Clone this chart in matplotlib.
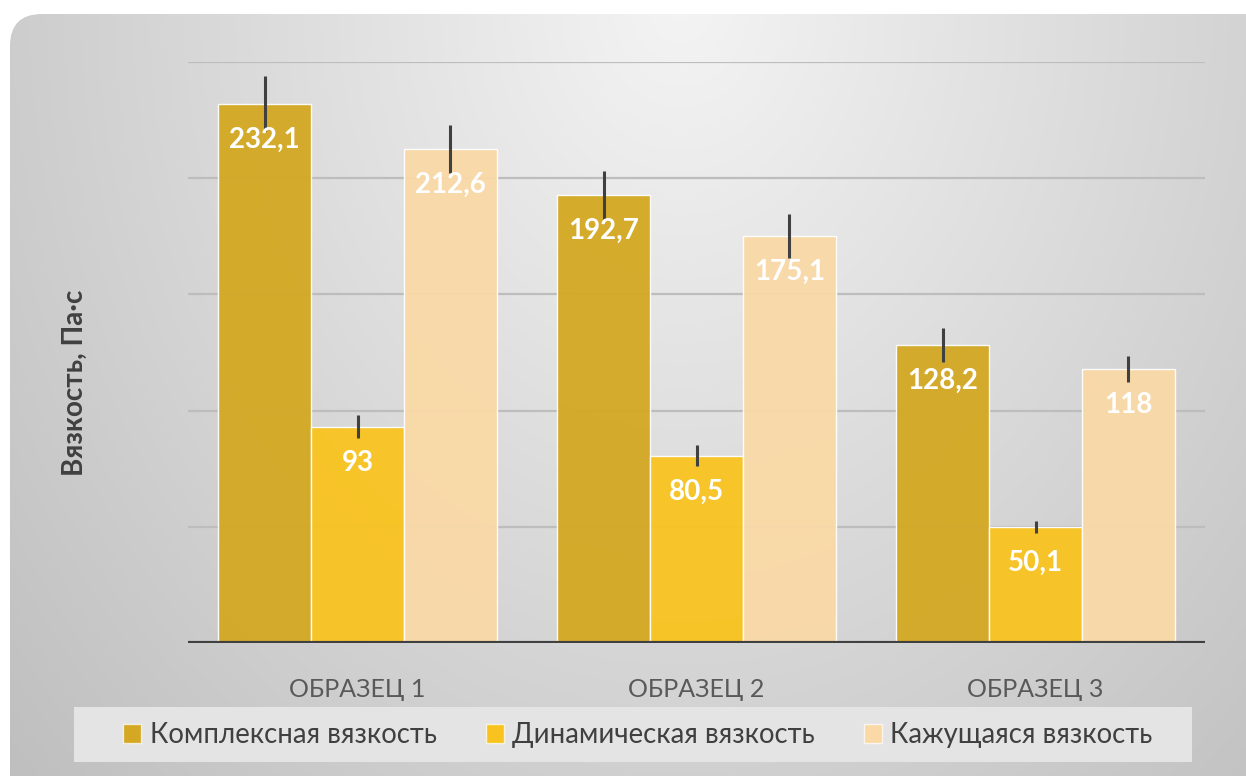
import numpy as np
import matplotlib
matplotlib.use("Agg")
import matplotlib.pyplot as plt
from matplotlib.patches import FancyBboxPatch, Rectangle, Patch

plt.rcParams['font.family'] = ['Lato', 'DejaVu Sans']

categories = ['ОБРАЗЕЦ 1', 'ОБРАЗЕЦ 2', 'ОБРАЗЕЦ 3']
series_names = ['Комплексная вязкость', 'Динамическая вязкость', 'Кажущаяся вязкость']
complex_visc = [232.1, 192.7, 128.2]
dynamic_visc = [93, 80.5, 50.1]
apparent_visc = [212.6, 175.1, 118]
complex_err = [12, 10.3, 7.3]
dynamic_err = [5.0, 4.5, 2.6]
apparent_err = [10.5, 9.5, 5.6]
value_labels = [['232,1', '192,7', '128,2'], ['93', '80,5', '50,1'], ['212,6', '175,1', '118']]
colors = ['#D4A822', '#F9C31F', '#FAD9A6']
y_label = 'Вязкость, Па·с'

W, H = 1246, 776
fig = plt.figure(figsize=(W / 100, H / 100), dpi=100, facecolor='white')

# background with gradient and rounded corners
bg = fig.add_axes([0, 0, 1, 1], zorder=0)
bg.set_xlim(0, W)
bg.set_ylim(H, 0)
bg.axis('off')
xx, yy = np.meshgrid(np.arange(W), np.arange(H))
d = np.sqrt(((xx - 680) / 720.0) ** 2 + ((yy - 0) / 900.0) ** 2)
v = np.clip(244 - 42 * d, 190, 255) / 255.0
img = np.dstack([v, v, v])
im = bg.imshow(img, extent=[0, W, H, 0], aspect='auto', interpolation='bilinear')
box = FancyBboxPatch((10, 14), W + 40, H + 40, boxstyle='round,pad=0,rounding_size=32',
                     transform=bg.transData, facecolor='none', edgecolor='none')
bg.add_patch(box)
im.set_clip_path(box)

# legend background box
bg.add_patch(Rectangle((74, 707), 1192 - 74, 762 - 707, facecolor='#E4E4E4', edgecolor='none', zorder=2))

ax = fig.add_axes([188 / W, 1 - 643 / H, 1017 / W, (643 - 62) / H], zorder=1)
ax.patch.set_alpha(0)
ax.set_xlim(-0.5, 2.5)
ax.set_ylim(0, 250)

for yv in [50, 100, 150, 200, 250]:
    ax.axhline(yv, color='#BDBDBD', lw=1.6, zorder=1)
ax.axhline(0, color='#404040', lw=3.0, zorder=5)

x = np.arange(len(categories))
bw = 0.274
data = [complex_visc, dynamic_visc, apparent_visc]
errs = [complex_err, dynamic_err, apparent_err]
for i, (vals, er, c) in enumerate(zip(data, errs, colors)):
    pos = x + (i - 1) * bw
    ax.bar(pos, vals, width=bw, color=c, edgecolor=(1, 1, 1, 0.55), linewidth=1.0, alpha=0.95, zorder=2)
    ax.errorbar(pos, vals, yerr=er, fmt='none', ecolor='#404040', elinewidth=2.2, capsize=0, zorder=3)
    for p, val, lab in zip(pos, vals, value_labels[i]):
        ax.annotate(lab, (p, val), xytext=(0, -26), textcoords='offset points', ha='center', va='center',
                    color='white', fontsize=20, fontweight='bold', zorder=6)

ax.set_xticks(x)
ax.set_xticklabels(categories, fontsize=18, color='#595959')
ax.tick_params(axis='x', length=0, pad=25)
ax.set_yticks([])
for s in ax.spines.values():
    s.set_visible(False)

fig.text(75 / W, 1 - 383 / H, y_label, rotation=90, ha='center', va='center', fontsize=20,
         fontweight='bold', color='#404040')

handles = [Patch(facecolor=c, edgecolor=(1, 1, 1, 0.7), linewidth=1) for c in colors]
leg = fig.legend(handles, series_names, loc='center', bbox_to_anchor=(638 / W, 1 - 735 / H), ncol=3,
                 frameon=False, fontsize=19.8, handlelength=0.65, handleheight=0.7, handletextpad=0.3,
                 columnspacing=1.8, labelcolor='#404040')

fig.savefig('out.png', dpi=100, facecolor='white')
